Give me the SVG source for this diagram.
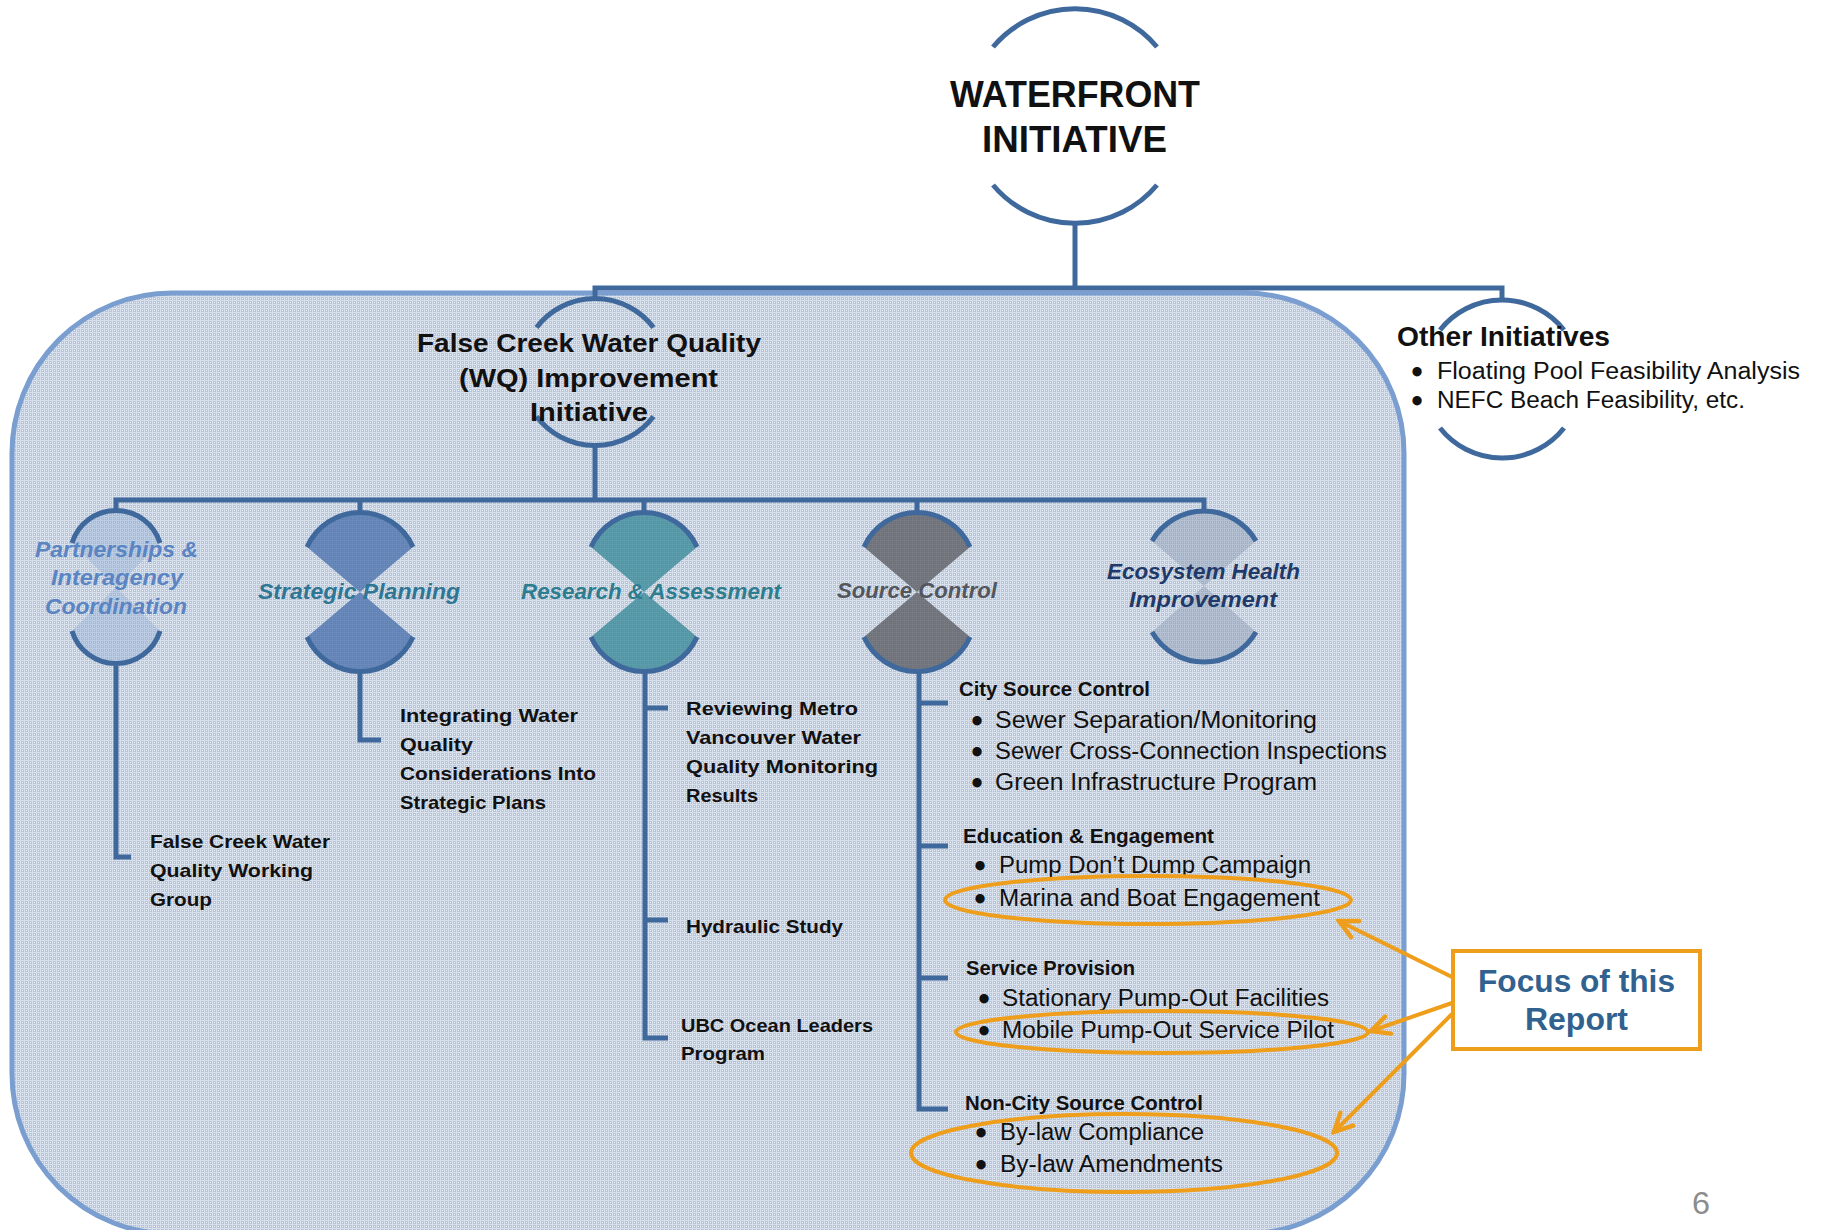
<svg xmlns="http://www.w3.org/2000/svg" width="1823" height="1230" viewBox="0 0 1823 1230">
<defs>
<pattern id="tex" patternUnits="userSpaceOnUse" width="4" height="4">
<rect width="4" height="4" fill="#b6c5d9"/>
<rect width="4" height="1" fill="#d8e0ec"/>
<rect width="1" height="4" fill="#d8e0ec"/>
<rect x="2" y="2" width="1" height="1" fill="#f2f5fa"/>
</pattern>
<marker id="arr" viewBox="0 0 24 24" refX="21" refY="12" markerWidth="24" markerHeight="24" markerUnits="userSpaceOnUse" orient="auto">
<path d="M3,3 L21,12 L3,21" fill="none" stroke="#EE9E1A" stroke-width="4.5" stroke-linecap="round" stroke-linejoin="miter"/>
</marker>
</defs>
<style>
.ln{fill:none;stroke:#3F699C;stroke-width:5}
.arc{fill:none;stroke:#3F699C;stroke-width:5}
.t{font-family:"Liberation Sans",Arial,sans-serif;fill:#111}
.b{font-weight:bold}
.bi{font-weight:bold;font-style:italic}
.leaf{font-family:"Liberation Sans",Arial,sans-serif;font-weight:bold;font-size:19px;fill:#111}
.head{font-family:"Liberation Sans",Arial,sans-serif;font-weight:bold;font-size:20px;fill:#111}
.item{font-family:"Liberation Sans",Arial,sans-serif;font-size:23px;fill:#111}
.bul{font-family:"Liberation Sans",Arial,sans-serif;font-size:23px;fill:#111;stroke:#111;stroke-width:3}
.org{fill:none;stroke:#EE9E1A;stroke-width:4}
</style>
<rect width="1823" height="1230" fill="#ffffff"/>
<rect id="wq-frame" x="12" y="293" width="1392" height="941" rx="160" ry="160" fill="url(#tex)" stroke="#7A9ED0" stroke-width="5"/>

<g id="connectors">
<path class="ln" d="M1075 222 V288"/>
<path class="ln" d="M595 299 V288 H1502 V301"/>
<path class="ln" d="M595 445 V500"/>
<path class="ln" d="M116 513 V500 H1204 V513"/>
<path class="ln" d="M360 500 V513 M644 500 V513 M917 500 V513"/>
<path class="ln" d="M116 666 V857 H131"/>
<path class="ln" d="M360 672 V740 H381"/>
<path class="ln" d="M645 670 V1038 H668 M645 708 H668 M645 920 H668"/>
<path class="ln" d="M919 670 V1109 H948 M919 703 H948 M919 846 H948 M919 978 H948"/>
<path class="org" d="M1452 977 L1339 921" marker-end="url(#arr)"/>
<path class="org" d="M1452 1003 L1371 1031" marker-end="url(#arr)"/>
<path class="org" d="M1452 1014 L1334 1132" marker-end="url(#arr)"/>
</g>

<g id="waterfront">
<path class="arc" d="M993 47 A107 107 0 0 1 1157 47"/>
<path class="arc" d="M1157 185 A107 107 0 0 1 993 185"/>
<text class="t b" x="950" y="107" font-size="37" textLength="250" lengthAdjust="spacingAndGlyphs">WATERFRONT</text>
<text class="t b" x="982" y="152" font-size="37" textLength="185" lengthAdjust="spacingAndGlyphs">INITIATIVE</text>
</g>

<g id="fcwq">
<path class="arc" d="M536.5 327.5 A73.5 73.5 0 0 1 653.5 327.5"/>
<path class="arc" d="M653.5 416.5 A73.5 73.5 0 0 1 536.5 416.5"/>
<text class="t b" x="417" y="352" font-size="26" textLength="344" lengthAdjust="spacingAndGlyphs">False Creek Water Quality</text>
<text class="t b" x="459" y="387" font-size="26" textLength="259" lengthAdjust="spacingAndGlyphs">(WQ) Improvement</text>
<text class="t b" x="530" y="421" font-size="26" textLength="118" lengthAdjust="spacingAndGlyphs">Initiative</text>
</g>

<g id="other-initiatives">
<path class="arc" d="M1440 330 A79 79 0 0 1 1564 330"/>
<path class="arc" d="M1564 428 A79 79 0 0 1 1440 428"/>
<text class="t b" x="1397" y="346" font-size="28" textLength="213" lengthAdjust="spacingAndGlyphs">Other Initiatives</text>
<text class="bul" x="1417" y="380" text-anchor="middle">•</text>
<text class="item" x="1437" y="379" textLength="363" lengthAdjust="spacingAndGlyphs">Floating Pool Feasibility Analysis</text>
<text class="bul" x="1417" y="409" text-anchor="middle">•</text>
<text class="item" x="1437" y="408" textLength="308" lengthAdjust="spacingAndGlyphs">NEFC Beach Feasibility, etc.</text>
</g>

<g id="partnerships">
<path d="M72 543 A46 46 0 0 1 160 543 L116 587 Z M160 631 A46 46 0 0 1 72 631 L116 587 Z" fill="#8AA8D4" fill-opacity="0.35"/>
<path class="arc" d="M72 543 A46 46 0 0 1 160 543"/>
<path class="arc" d="M160 631 A46 46 0 0 1 72 631"/>
<text class="t bi" x="35" y="557" font-size="22" style="fill:#5A84C2" textLength="163" lengthAdjust="spacingAndGlyphs">Partnerships &amp;</text>
<text class="t bi" x="51" y="585" font-size="22" style="fill:#5A84C2" textLength="132" lengthAdjust="spacingAndGlyphs">Interagency</text>
<text class="t bi" x="45" y="614" font-size="22" style="fill:#5A84C2" textLength="142" lengthAdjust="spacingAndGlyphs">Coordination</text>
</g>

<g id="strategic-planning">
<path d="M307 547 A58 58 0 0 1 413 547 L360 592 Z M413 637 A58 58 0 0 1 307 637 L360 592 Z" fill="#3F68A8" fill-opacity="0.72"/>
<path class="arc" d="M307 547 A58 58 0 0 1 413 547"/>
<path class="arc" d="M413 637 A58 58 0 0 1 307 637"/>
<text class="t bi" x="258" y="599" font-size="22" style="fill:#2E7694" textLength="202" lengthAdjust="spacingAndGlyphs">Strategic Planning</text>
</g>

<g id="research-assessment">
<path d="M591 547 A58 58 0 0 1 697 547 L644 592 Z M697 637 A58 58 0 0 1 591 637 L644 592 Z" fill="#2C8292" fill-opacity="0.72"/>
<path class="arc" d="M591 547 A58 58 0 0 1 697 547"/>
<path class="arc" d="M697 637 A58 58 0 0 1 591 637"/>
<text class="t bi" x="521" y="599" font-size="22" style="fill:#2E7D8F" textLength="260" lengthAdjust="spacingAndGlyphs">Research &amp; Assessment</text>
</g>

<g id="source-control">
<path d="M864 547 A58 58 0 0 1 970 547 L917 592 Z M970 637 A58 58 0 0 1 864 637 L917 592 Z" fill="#4A4A50" fill-opacity="0.68"/>
<path class="arc" d="M864 547 A58 58 0 0 1 970 547"/>
<path class="arc" d="M970 637 A58 58 0 0 1 864 637"/>
<text class="t bi" x="837" y="598" font-size="22" style="fill:#53565C" textLength="160" lengthAdjust="spacingAndGlyphs">Source Control</text>
</g>

<g id="ecosystem-health">
<path d="M1152 541 A60 60 0 0 1 1256 541 L1204 586 Z M1256 632 A60 60 0 0 1 1152 632 L1204 586 Z" fill="#8393AC" fill-opacity="0.4"/>
<path class="arc" d="M1152 541 A60 60 0 0 1 1256 541"/>
<path class="arc" d="M1256 632 A60 60 0 0 1 1152 632"/>
<text class="t bi" x="1107" y="579" font-size="22" style="fill:#1F3A68" textLength="193" lengthAdjust="spacingAndGlyphs">Ecosystem Health</text>
<text class="t bi" x="1129" y="607" font-size="22" style="fill:#1F3A68" textLength="148" lengthAdjust="spacingAndGlyphs">Improvement</text>
</g>

<g id="working-group">
<text class="leaf" x="150" y="848" textLength="180" lengthAdjust="spacingAndGlyphs">False Creek Water</text>
<text class="leaf" x="150" y="877" textLength="163" lengthAdjust="spacingAndGlyphs">Quality Working</text>
<text class="leaf" x="150" y="906" textLength="62" lengthAdjust="spacingAndGlyphs">Group</text>
</g>

<g id="integrating">
<text class="leaf" x="400" y="722" textLength="178" lengthAdjust="spacingAndGlyphs">Integrating Water</text>
<text class="leaf" x="400" y="751" textLength="73" lengthAdjust="spacingAndGlyphs">Quality</text>
<text class="leaf" x="400" y="780" textLength="196" lengthAdjust="spacingAndGlyphs">Considerations Into</text>
<text class="leaf" x="400" y="809" textLength="146" lengthAdjust="spacingAndGlyphs">Strategic Plans</text>
</g>

<g id="reviewing">
<text class="leaf" x="686" y="715" textLength="172" lengthAdjust="spacingAndGlyphs">Reviewing Metro</text>
<text class="leaf" x="686" y="744" textLength="175" lengthAdjust="spacingAndGlyphs">Vancouver Water</text>
<text class="leaf" x="686" y="773" textLength="192" lengthAdjust="spacingAndGlyphs">Quality Monitoring</text>
<text class="leaf" x="686" y="802" textLength="72" lengthAdjust="spacingAndGlyphs">Results</text>
</g>

<g id="hydraulic">
<text class="leaf" x="686" y="933" textLength="157" lengthAdjust="spacingAndGlyphs">Hydraulic Study</text>
</g>

<g id="ubc">
<text class="leaf" x="681" y="1032" textLength="192" lengthAdjust="spacingAndGlyphs">UBC Ocean Leaders</text>
<text class="leaf" x="681" y="1060" textLength="84" lengthAdjust="spacingAndGlyphs">Program</text>
</g>

<g id="city-source">
<text class="head" x="959" y="696" textLength="191" lengthAdjust="spacingAndGlyphs">City Source Control</text>
<text class="bul" x="977" y="729" text-anchor="middle">•</text>
<text class="item" x="995" y="728" textLength="322" lengthAdjust="spacingAndGlyphs">Sewer Separation/Monitoring</text>
<text class="bul" x="977" y="760" text-anchor="middle">•</text>
<text class="item" x="995" y="759" textLength="392" lengthAdjust="spacingAndGlyphs">Sewer Cross-Connection Inspections</text>
<text class="bul" x="977" y="791" text-anchor="middle">•</text>
<text class="item" x="995" y="790" textLength="322" lengthAdjust="spacingAndGlyphs">Green Infrastructure Program</text>
</g>

<g id="education">
<text class="head" x="963" y="843" textLength="251" lengthAdjust="spacingAndGlyphs">Education &amp; Engagement</text>
<text class="bul" x="980" y="874" text-anchor="middle">•</text>
<text class="item" x="999" y="873" textLength="312" lengthAdjust="spacingAndGlyphs">Pump Don’t Dump Campaign</text>
<text class="bul" x="980" y="907" text-anchor="middle">•</text>
<text class="item" x="999" y="906" textLength="321" lengthAdjust="spacingAndGlyphs">Marina and Boat Engagement</text>
<ellipse class="org" cx="1148" cy="900" rx="203" ry="24"/>
</g>

<g id="service">
<text class="head" x="966" y="975" textLength="169" lengthAdjust="spacingAndGlyphs">Service Provision</text>
<text class="bul" x="984" y="1007" text-anchor="middle">•</text>
<text class="item" x="1002" y="1006" textLength="327" lengthAdjust="spacingAndGlyphs">Stationary Pump-Out Facilities</text>
<text class="bul" x="984" y="1039" text-anchor="middle">•</text>
<text class="item" x="1002" y="1038" textLength="332" lengthAdjust="spacingAndGlyphs">Mobile Pump-Out Service Pilot</text>
<ellipse class="org" cx="1162" cy="1032" rx="206" ry="21"/>
</g>

<g id="non-city">
<text class="head" x="965" y="1110" textLength="238" lengthAdjust="spacingAndGlyphs">Non-City Source Control</text>
<text class="bul" x="981" y="1141" text-anchor="middle">•</text>
<text class="item" x="1000" y="1140" textLength="204" lengthAdjust="spacingAndGlyphs">By-law Compliance</text>
<text class="bul" x="981" y="1173" text-anchor="middle">•</text>
<text class="item" x="1000" y="1172" textLength="223" lengthAdjust="spacingAndGlyphs">By-law Amendments</text>
<ellipse class="org" cx="1124" cy="1153" rx="213" ry="39"/>
</g>

<g id="focus">
<rect x="1453" y="951" width="247" height="98" fill="#ffffff" stroke="#EE9E1A" stroke-width="4"/>
<text class="t b" x="1478" y="992" font-size="31" style="fill:#31618F" textLength="197" lengthAdjust="spacingAndGlyphs">Focus of this</text>
<text class="t b" x="1525" y="1030" font-size="31" style="fill:#31618F" textLength="103" lengthAdjust="spacingAndGlyphs">Report</text>
</g>

<text class="t" x="1692" y="1214" font-size="31" style="fill:#8C8C8C" textLength="18" lengthAdjust="spacingAndGlyphs">6</text>
</svg>
